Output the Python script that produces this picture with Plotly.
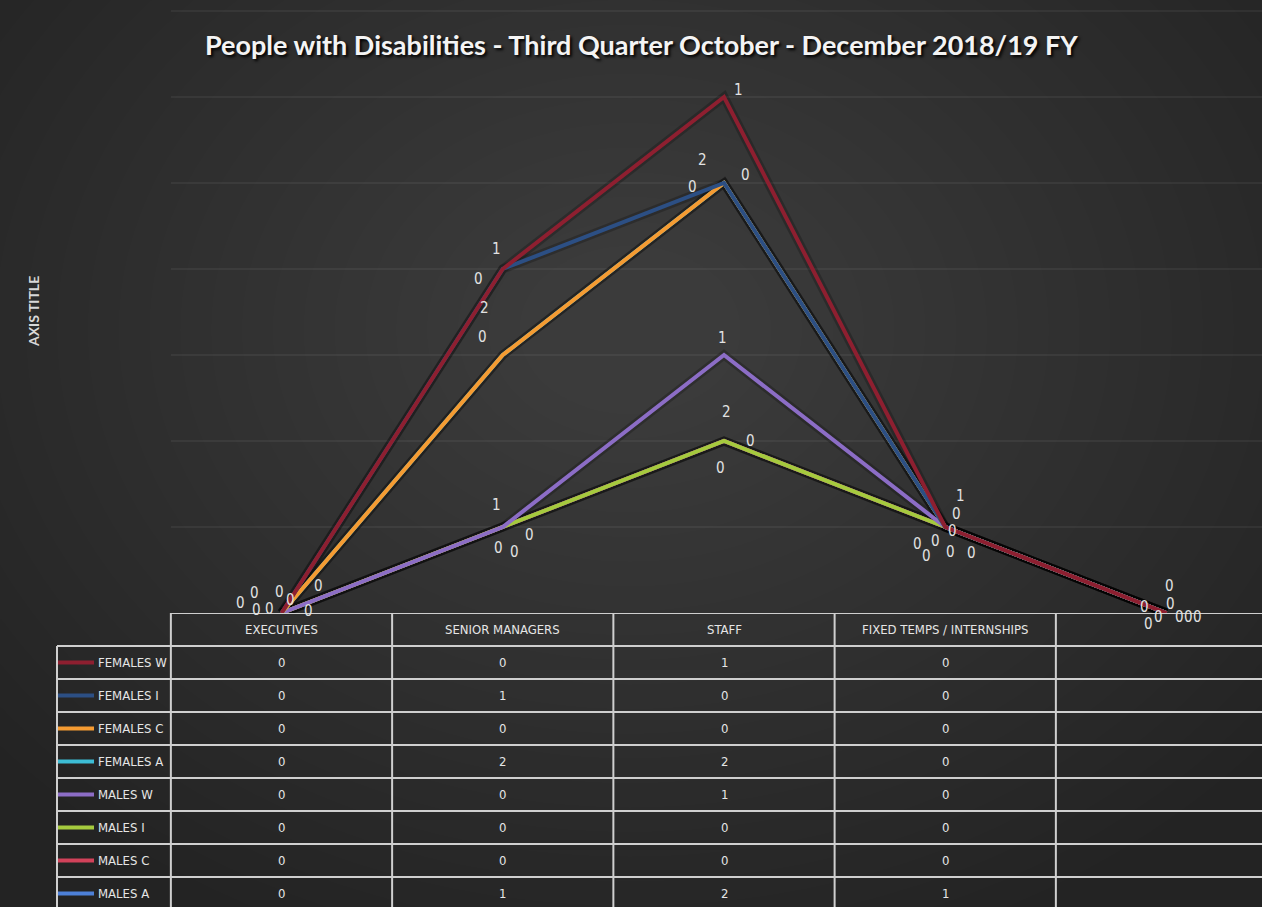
import plotly.graph_objects as go

# ---------------- data ----------------
categories = ["EXECUTIVES", "SENIOR MANAGERS", "STAFF", "FIXED TEMPS / INTERNSHIPS", ""]

females_w = [0, 0, 1, 0, None]
females_i = [0, 1, 0, 0, None]
females_c = [0, 0, 0, 0, None]
females_a = [0, 2, 2, 0, None]
males_w = [0, 0, 1, 0, None]
males_i = [0, 0, 0, 0, None]
males_c = [0, 0, 0, 0, None]
males_a = [0, 1, 2, 1, None]

# table order (top to bottom)
series_names = ["FEMALES W", "FEMALES I", "FEMALES C", "FEMALES A",
                "MALES W", "MALES I", "MALES C", "MALES A"]
series_values = [females_w, females_i, females_c, females_a,
                 males_w, males_i, males_c, males_a]
series_colors = ["#8e1f30", "#2c4f84", "#f59b32", "#3dbdd5",
                 "#8c6dc6", "#a5ca3e", "#d2425a", "#4d80d8"]

title_text = "People with Disabilities - Third Quarter October - December 2018/19 FY"
axis_title = "AXIS TITLE"

# data-label offsets in pixels (dx right, dy up), per series and category (style only)
label_off = {
    "FEMALES W": [(-41, 10), (-24, -10), (14, 7), (7, -4), (-22, 6)],
    "FEMALES I": [(-27, 20), (-6, 20), (21, 8), (26, -26), (-18, -11)],
    "FEMALES C": [(-25, 3), (-20, 18), (-32, -4), (5, -25), (-8, -4)],
    "FEMALES A": [(-2, 21), (-18, 47), (-22, 23), (-10, -14), (3, 27)],
    "MALES W":   [(-12, 4), (-4, -21), (-2, 17), (-19, -29), (4, 9)],
    "MALES I":   [(9, 13), (12, -25), (-4, -27), (-28, -17), (13, -4)],
    "MALES C":   [(37, 27), (27, -8), (26, 0), (11, 13), (22, -4)],
    "MALES A":   [(27, 2), (-6, 22), (2, 29), (15, 31), (31, -4)],
}

# ---------------- geometry helpers ----------------
W, H = 1262, 907
X0PX, UNIT = 281.5, 221.25          # pixel of category 0, pixels per category


def px2x(px):
    return (px - X0PX) / UNIT


XMIN, XMAX = px2x(0), px2x(W)
ZERO_PX = 613
Y_UNIT = 86.0
Y_DOM0 = (H - ZERO_PX) / H
ROW_H = 33.0
N_ROWS_SPAN = (H - ZERO_PX) / ROW_H

TFONT = "Liberation Sans Narrow, DejaVu Sans Condensed, Roboto Condensed, Roboto, sans-serif"

fig = go.Figure()

x_idx = list(range(len(categories)))
stack_order = list(reversed(list(zip(series_names, series_values, series_colors))))

# soft dark shadow under the lines (Excel shadow effect)
for name, vals, col in stack_order:
    y_plot = [0 if v is None else v for v in vals]
    fig.add_trace(go.Scatter(
        x=x_idx, y=y_plot, stackgroup="shadow", fill="none", mode="lines",
        line=dict(color="rgba(0,0,0,0.22)", width=9),
        showlegend=False, hoverinfo="skip"))

annotations = []
cum = [0] * len(categories)
for name, vals, col in stack_order:
    y_plot = [0 if v is None else v for v in vals]   # blanks plotted as zero
    fig.add_trace(go.Scatter(
        x=x_idx, y=y_plot, name=name,
        stackgroup="one", fill="none",
        mode="lines",
        line=dict(color=col, width=4),
        showlegend=False,
        hovertemplate=name + ": %{text}<extra></extra>",
        text=[str(v) for v in y_plot],
    ))
    cum = [c + v for c, v in zip(cum, y_plot)]
    for i, (v, c) in enumerate(zip(y_plot, cum)):
        dx, dy = label_off[name][i]
        annotations.append(dict(x=i, y=c, xref="x", yref="y", text=str(v),
                                showarrow=False, xshift=dx, yshift=dy,
                                font=dict(family=TFONT, size=15, color="#e2e2e2")))

shapes = []
# radial-ish background glow
n_layers = 24
cx, cy = 630, 330
for k in range(n_layers):
    f = 1 - k / n_layers
    rx = 80 + 740 * f
    ry = 60 + 590 * f
    shapes.append(dict(type="circle", xref="paper", yref="paper",
                       x0=(cx - rx) / W, x1=(cx + rx) / W,
                       y0=(H - cy - ry) / H, y1=(H - cy + ry) / H,
                       fillcolor="rgba(255,255,255,0.0098)", line=dict(width=0),
                       layer="below"))

# horizontal gridlines
for g in range(1, 8):
    shapes.append(dict(type="line", xref="x", yref="y", x0=-0.5, x1=XMAX, y0=g, y1=g,
                       line=dict(color="rgba(255,255,255,0.11)", width=1), layer="below"))

# data table lines
tcol = "#cfcfcf"
shapes.append(dict(type="line", xref="x", yref="y2", x0=-0.5, x1=XMAX, y0=0, y1=0,
                   line=dict(color=tcol, width=2)))
for r in range(1, len(series_names) + 1):
    shapes.append(dict(type="line", xref="x", yref="y2", x0=px2x(57), x1=XMAX, y0=r, y1=r,
                       line=dict(color=tcol, width=2)))
shapes.append(dict(type="line", xref="x", yref="y2", x0=px2x(57), x1=px2x(57),
                   y0=1, y1=N_ROWS_SPAN, line=dict(color=tcol, width=2)))
for i in range(len(categories)):
    shapes.append(dict(type="line", xref="x", yref="y2", x0=i - 0.5, x1=i - 0.5,
                       y0=0, y1=N_ROWS_SPAN, line=dict(color=tcol, width=2)))

# category header
for i, c in enumerate(categories):
    annotations.append(dict(x=i, y=0.5, xref="x", yref="y2", text=c, showarrow=False,
                            font=dict(family=TFONT, size=13, color="#e6e6e6")))
# rows
for r, (name, vals, col) in enumerate(zip(series_names, series_values, series_colors)):
    yc = r + 1.5
    shapes.append(dict(type="line", xref="x", yref="y2", x0=px2x(58), x1=px2x(94),
                       y0=yc, y1=yc, line=dict(color=col, width=4)))
    annotations.append(dict(x=px2x(96), y=yc, xref="x", yref="y2", text=name,
                            showarrow=False, xanchor="left",
                            font=dict(family=TFONT, size=13, color="#e6e6e6")))
    for i, v in enumerate(vals):
        annotations.append(dict(x=i, y=yc, xref="x", yref="y2",
                                text="" if v is None else str(v), showarrow=False,
                                font=dict(family=TFONT, size=13, color="#e6e6e6")))

# title and axis title
annotations.append(dict(x=641 / W, y=1 - 45 / H, xref="paper", yref="paper",
                        xanchor="center", yanchor="middle",
                        text=f"<b>{title_text}</b>", showarrow=False,
                        font=dict(family="Lato, sans-serif", size=27, color="#f4f4f4",
                                  shadow="2px 2px 3px #000")))
annotations.append(dict(x=33 / W, y=1 - 312 / H, xref="paper", yref="paper",
                        xanchor="center", yanchor="middle",
                        text=f"<b>{axis_title}</b>", showarrow=False, textangle=-90,
                        font=dict(family="Lato, sans-serif", size=14, color="#d8d8d8")))

fig.update_layout(
    width=W, height=H,
    margin=dict(l=0, r=0, t=0, b=0),
    paper_bgcolor="#232323",
    plot_bgcolor="rgba(0,0,0,0)",
    shapes=shapes,
    annotations=annotations,
    xaxis=dict(range=[XMIN, XMAX], domain=[0, 1], visible=False, fixedrange=True),
    yaxis=dict(range=[0, ZERO_PX / Y_UNIT], domain=[Y_DOM0, 1], visible=False,
               showgrid=False, zeroline=False),
    yaxis2=dict(range=[N_ROWS_SPAN, 0], domain=[0, Y_DOM0], visible=False, anchor="x",
                showgrid=False, zeroline=False),
)

fig.write_html("out.html")
